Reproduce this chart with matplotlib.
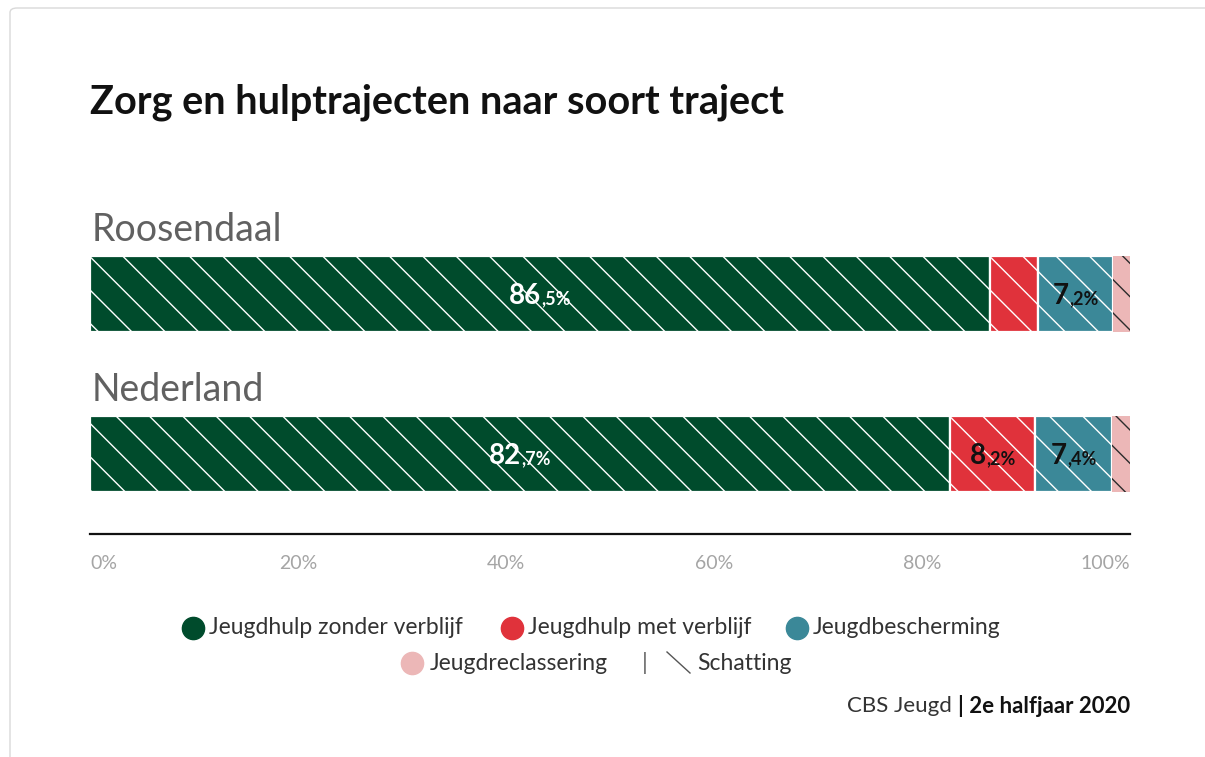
import matplotlib
matplotlib.use("Agg")
import matplotlib.pyplot as plt
from matplotlib.patches import FancyBboxPatch
from matplotlib.lines import Line2D
from matplotlib.transforms import offset_copy

# ---- data ----
regions = ["Roosendaal", "Nederland"]
series = ["Jeugdhulp zonder verblijf", "Jeugdhulp met verblijf", "Jeugdbescherming", "Jeugdreclassering"]
jeugdhulp_zonder = [86.5, 82.7]
jeugdhulp_met = [4.7, 8.2]
jeugdbescherming = [7.2, 7.4]
jeugdreclassering = [1.6, 1.7]
xticks = [0, 20, 40, 60, 80, 100]
xticklabels = ["0%", "20%", "40%", "60%", "80%", "100%"]
title = "Zorg en hulptrajecten naar soort traject"
source_regular = "CBS Jeugd "
source_bold = "| 2e halfjaar 2020"

colors = ["#004b2c", "#e0323b", "#3b8898", "#ecb7b7"]
hatch_colors = ["white", "white", "white", "#2b2b2b"]
label_colors = ["white", "#111111", "#111111", "#111111"]

plt.rcParams['font.family'] = ['Lato', 'DejaVu Sans']
plt.rcParams['hatch.linewidth'] = 1.0

W, H = 1205, 757
fig = plt.figure(figsize=(W / 100, H / 100), dpi=100)
fig.patch.set_facecolor("white")

# card border
card = FancyBboxPatch((10 / W, -20 / H), 1.2, (H - 8 + 20) / H, boxstyle="round,pad=0,rounding_size=0.006",
                      transform=fig.transFigure, facecolor="white", edgecolor="#d9d9d9", linewidth=1.0, zorder=-5)
fig.add_artist(card)

left, right = 90 / W, 1130 / W
bottom_px, top_px = 534, 214
ax = fig.add_axes([left, 1 - bottom_px / H, right - left, (bottom_px - top_px) / H])
ax.set_facecolor("none")
ax.set_zorder(2)

ypos = [1, 0]
bar_h = 0.475
data = [jeugdhulp_zonder, jeugdhulp_met, jeugdbescherming, jeugdreclassering]

lefts = [0.0, 0.0]
value_texts = []
for si, vals in enumerate(data):
    for ri, v in enumerate(vals):
        lw = 1.6 if si < 3 else 0.0
        ax.barh(ypos[ri], v, left=lefts[ri], height=bar_h, color=colors[si],
                edgecolor=hatch_colors[si], linewidth=lw, hatch="\\", zorder=2)
        if v >= 6:
            whole, frac = f"{v:.1f}".split(".")
            value_texts.append((lefts[ri] + v / 2, ypos[ri], whole, "," + frac + "%", label_colors[si]))
        lefts[ri] += v

ax.set_xlim(0, 100)
ax.set_ylim(-0.5, 1.5)
ax.set_xticks(xticks)
ax.set_xticklabels(xticklabels)
ax.set_yticks([])
for s in ["top", "left", "right"]:
    ax.spines[s].set_visible(False)
ax.spines["bottom"].set_linewidth(1.6)
ax.spines["bottom"].set_color("#111111")
ax.tick_params(axis="x", length=0, pad=15, labelsize=14, labelcolor="#a5a5a5")
labs = ax.get_xticklabels()
labs[0].set_horizontalalignment("left")
labs[-1].set_horizontalalignment("right")

# region labels
for ri, name in enumerate(regions):
    ax.annotate(name, xy=(0, ypos[ri] + bar_h / 2), xytext=(1, 6), textcoords="offset points",
                fontsize=27, fontweight="normal", color="#616161", va="bottom", ha="left")

# value labels: big integer part + small decimal part, centered
fig.canvas.draw()
renderer = fig.canvas.get_renderer()
for x, y, big, small, col in value_texts:
    t1 = ax.text(x, y, big, fontsize=20, fontweight="bold", color=col, ha="left", va="baseline", zorder=5)
    t2 = ax.text(x, y, small, fontsize=13, fontweight="bold", color=col, ha="left", va="baseline", zorder=5)
    w1 = t1.get_window_extent(renderer).width
    w2 = t2.get_window_extent(renderer).width
    total = w1 + w2
    t1.set_transform(offset_copy(ax.transData, fig=fig, x=-total / 2, y=-10, units="dots"))
    t2.set_transform(offset_copy(ax.transData, fig=fig, x=-total / 2 + w1, y=-10, units="dots"))

# title
fig.text(90 / W, 1 - 102 / H, title, fontsize=28.5, fontweight="bold", color="#111111", va="center", ha="left")

# legend (manual)
def px(x, y):
    return x / W, 1 - y / H

LFS = 16.5
leg_items_row1 = [(0, 193), (1, 512), (2, 797)]
for si, xc in leg_items_row1:
    fig.add_artist(Line2D([px(xc, 628)[0]], [px(xc, 628)[1]], marker="o", markersize=16,
                          color=colors[si], linestyle="none", transform=fig.transFigure))
    fig.text(px(xc + 16, 628)[0], px(xc, 628)[1], series[si], fontsize=LFS, color="#333333",
             va="center", ha="left")
xc = 412
fig.add_artist(Line2D([px(xc, 663)[0]], [px(xc, 663)[1]], marker="o", markersize=16,
                      color=colors[3], linestyle="none", transform=fig.transFigure))
fig.text(px(xc + 18, 663)[0], px(xc, 663)[1], series[3], fontsize=LFS, color="#333333", va="center", ha="left")
fig.text(px(645, 663)[0], px(645, 663)[1], "|", fontsize=LFS, color="#666666", va="center", ha="center")
fig.add_artist(Line2D([px(667, 652)[0], px(690, 673)[0]], [px(667, 652)[1], px(690, 673)[1]],
                      color="#555555", linewidth=1.0, transform=fig.transFigure))
fig.text(px(697, 663)[0], px(697, 663)[1], "Schatting", fontsize=LFS, color="#333333", va="center", ha="left")

# source
tb = fig.text(px(1130, 706)[0], px(1130, 706)[1], source_bold, fontsize=16, fontweight="bold",
              color="#111111", va="center", ha="right")
fig.canvas.draw()
wb = tb.get_window_extent(renderer).width
fig.text(px(1130 - wb, 706)[0], px(1130, 706)[1], source_regular, fontsize=16, color="#333333",
         va="center", ha="right")

fig.savefig("out.png", dpi=100, facecolor="white")
